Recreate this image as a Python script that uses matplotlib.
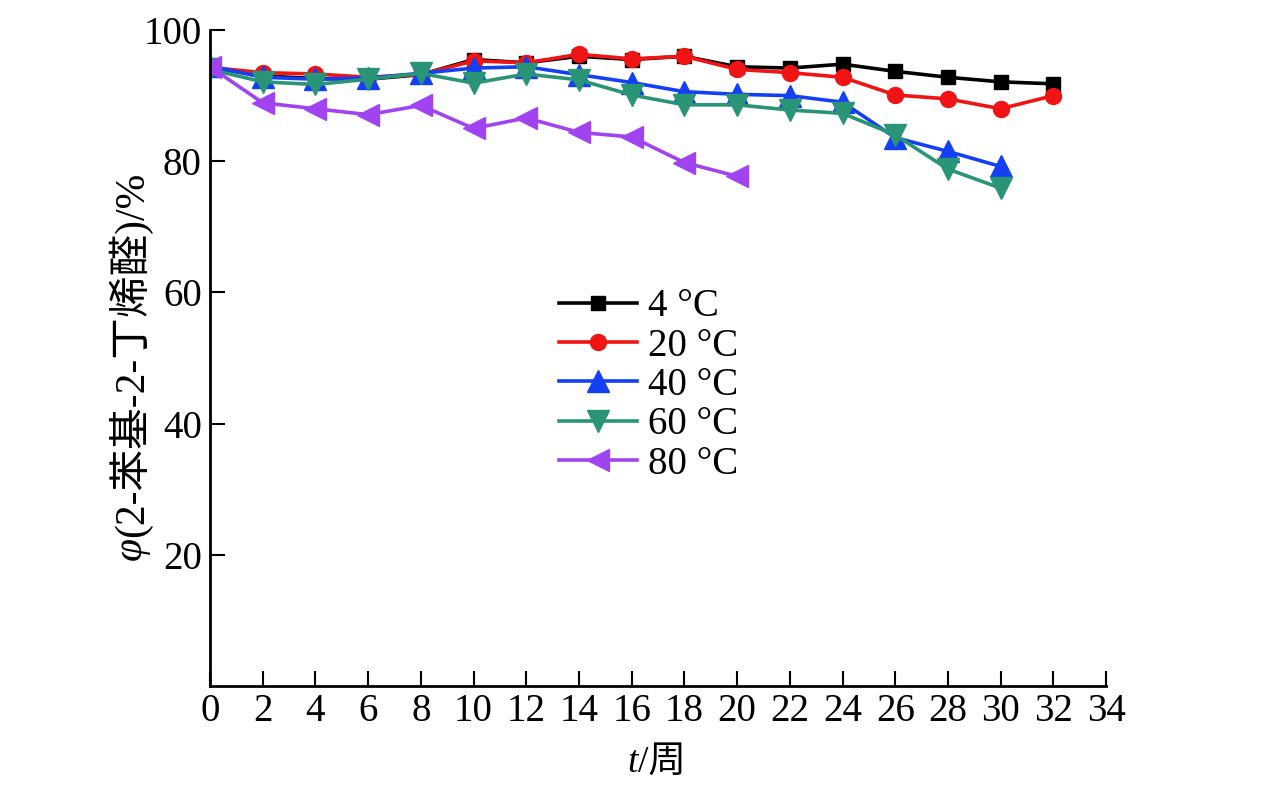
import matplotlib
matplotlib.use("Agg")
import matplotlib.pyplot as plt

plt.rcParams['font.family'] = ['Liberation Serif', 'Noto Sans CJK SC', 'DejaVu Serif']

# weeks and retained fraction (%) per storage temperature
weeks = [0, 2, 4, 6, 8, 10, 12, 14, 16, 18, 20, 22, 24, 26, 28, 30, 32]
t4 = [94.3, 93.0, 92.6, 92.5, 93.2, 95.5, 95.0, 96.0, 95.5, 96.0, 94.4, 94.2, 94.8, 93.7, 92.8, 92.1, 91.8]
t20 = [94.3, 93.5, 93.3, 92.8, 93.2, 95.3, 95.0, 96.3, 95.6, 96.0, 94.0, 93.5, 92.8, 90.1, 89.5, 88.0, 90.0]
weeks40 = weeks[:16]
t40 = [94.5, 92.8, 92.5, 92.7, 93.4, 94.2, 94.4, 93.2, 92.0, 90.6, 90.2, 90.0, 89.0, 83.6, 81.5, 79.2]
t60 = [94.0, 92.1, 91.7, 92.5, 93.4, 91.9, 93.3, 92.4, 90.1, 88.6, 88.6, 87.8, 87.3, 84.0, 78.8, 75.9]
weeks80 = weeks[:11]
t80 = [94.4, 88.9, 88.0, 87.1, 88.5, 85.0, 86.6, 84.4, 83.7, 79.8, 77.7]

fig = plt.figure(figsize=(12.76, 7.86), dpi=100)
ax = fig.add_axes([0.1646, 0.1272, 0.7022, 0.8346])

lw = 2.6
ax.plot(weeks, t4, color="black", marker="s", ms=9.5, lw=lw, label="4 °C")
ax.plot(weeks, t20, color="#f01414", marker="o", ms=11.5, lw=lw, label="20 °C")
ax.plot(weeks40, t40, color="#1440f5", marker="^", ms=16.5, lw=lw, label="40 °C")
ax.plot(weeks40, t60, color="#2a9476", marker="v", ms=16.5, lw=lw, label="60 °C")
ax.plot(weeks80, t80, color="#a044f2", marker="<", ms=16.5, lw=lw, label="80 °C")

ax.set_xlim(0, 34)
ax.set_ylim(0, 100)
ax.set_xticks(range(0, 35, 2))
ax.set_yticks([20, 40, 60, 80, 100])
ax.spines["top"].set_visible(False)
ax.spines["right"].set_visible(False)
for s in ("left", "bottom"):
    ax.spines[s].set_linewidth(2)
ax.tick_params(direction="in", length=11, width=1.5, labelsize=28)
ax.tick_params(axis="x", pad=5)
ax.tick_params(axis="y", pad=6)

# axis titles: italic symbol + upright rest, chained so they sit side by side
tt = fig.text(0.492, 0.008, "t", style="italic", fontsize=27, ha="left", va="bottom")
ax.annotate("/周", xy=(1, 0), xycoords=tt, ha="left", va="bottom", fontsize=27)
phi = fig.text(0.102, 0.288, "φ", style="italic", fontsize=30, rotation=90,
               ha="center", va="bottom")
ax.annotate("(2-苯基-2-丁烯醛)/%", xy=(0.5, 1), xycoords=phi, rotation=90,
            ha="center", va="bottom", fontsize=30)

ax.legend(loc="upper left", bbox_to_anchor=(0.372, 0.63), frameon=False,
          fontsize=28, handlelength=2.0, handletextpad=0.3, labelspacing=0.06,
          borderaxespad=0)

fig.savefig("out.png", dpi=100)
